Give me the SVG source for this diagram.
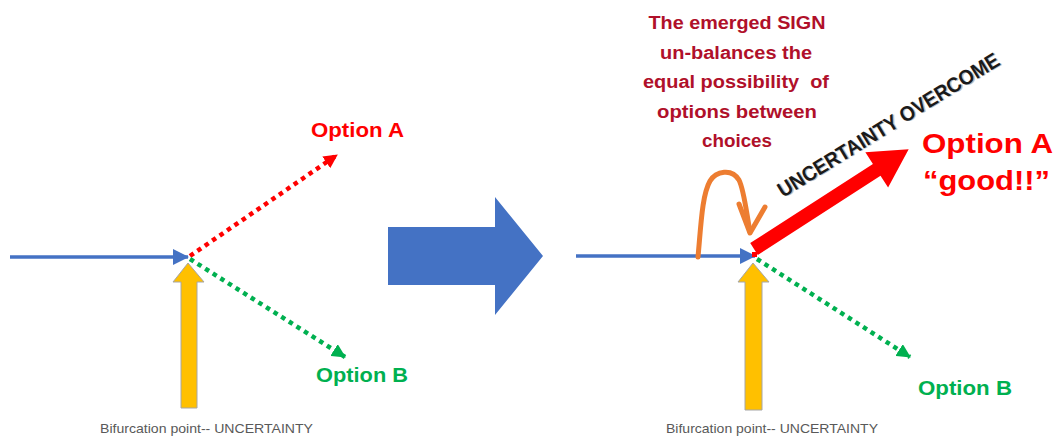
<svg xmlns="http://www.w3.org/2000/svg" width="1058" height="439" viewBox="0 0 1058 439">
<style>
.blue{stroke:#4472C4;stroke-width:3.5;fill:none}
.reddot{stroke:#FF0000;stroke-width:4.5;stroke-dasharray:4.5 4.5;fill:none}
.greendot{stroke:#00B050;stroke-width:4.5;stroke-dasharray:4.5 4.5;fill:none}
.yellow{fill:#FFC000;stroke:#A6A6A6;stroke-width:1}
.lbl{font-family:"Liberation Sans",Arial,sans-serif;font-weight:bold}
.optA{fill:#FF0000}
.optB{fill:#00B050}
.bif{font-family:"Liberation Sans",Arial,sans-serif;font-size:13px;fill:#595959}
.sign{font-family:"Liberation Sans",Arial,sans-serif;font-weight:bold;font-size:18px;fill:#B0102A;text-anchor:middle}
</style>
<defs>
<marker id="mBlue" markerUnits="userSpaceOnUse" markerWidth="16" markerHeight="18" refX="15" refY="8" orient="auto"><path d="M0,0 L16,8 L0,16 Z" fill="#4472C4"/></marker>
<marker id="mRed" markerUnits="userSpaceOnUse" markerWidth="14" markerHeight="14" refX="13" refY="7" orient="auto"><path d="M0,0 L14,7 L0,14 Z" fill="#FF0000"/></marker>
<marker id="mGreen" markerUnits="userSpaceOnUse" markerWidth="14" markerHeight="14" refX="13" refY="7" orient="auto"><path d="M0,0 L14,7 L0,14 Z" fill="#00B050"/></marker>
</defs>

<g id="connectors">
  <!-- left panel -->
  <line class="blue" x1="10" y1="257" x2="188" y2="257" marker-end="url(#mBlue)"/>
  <line class="reddot" x1="190" y1="256" x2="337" y2="155" marker-end="url(#mRed)"/>
  <line class="greendot" x1="190" y1="259" x2="345" y2="357" marker-end="url(#mGreen)"/>
  <!-- right panel -->
  <line class="blue" x1="576" y1="256" x2="755" y2="256" marker-end="url(#mBlue)"/>
  <line class="greendot" x1="757" y1="259" x2="910" y2="357" marker-end="url(#mGreen)"/>
  <path d="M698,257 C701,225 702,195 710,181 C716,171 732,168 739,180 C744,190 746,210 750,232" fill="none" stroke="#ED7D31" stroke-width="5" stroke-linecap="round"/>
  <path d="M739,204 L750,233 L765,207" fill="none" stroke="#ED7D31" stroke-width="5" stroke-linecap="round" stroke-linejoin="round"/>
</g>

<g id="yellow-left">
  <polygon class="yellow" points="188,263 204,282 197,282 197,408 181,408 181,282 173,282"/>
</g>
<g id="yellow-right">
  <polygon class="yellow" points="753,263 769,282 762,282 762,410 745,410 745,282 738,282"/>
</g>

<g id="transition-arrow">
  <polygon points="388,227 495,227 495,197 543,256 495,315 495,285 388,285" fill="#4472C4"/>
</g>

<g id="red-arrow">
  <rect x="752" y="252" width="5" height="5" fill="#FF0000"/>
  <polygon transform="translate(754,249) rotate(-32.8)" points="0,-7 146,-7 146,-21 184,0 146,21 146,7 0,7" fill="#FF0000"/>
</g>

<g id="label-left">
  <text class="lbl optA" x="311" y="137" font-size="21" textLength="93" lengthAdjust="spacingAndGlyphs">Option A</text>
  <text class="lbl optB" x="316" y="382" font-size="21" textLength="92" lengthAdjust="spacingAndGlyphs">Option B</text>
  <text class="bif" x="100" y="433" textLength="213" lengthAdjust="spacingAndGlyphs">Bifurcation point-- UNCERTAINTY</text>
</g>

<g id="label-right">
  <text class="lbl optA" x="922" y="153" font-size="27" textLength="131" lengthAdjust="spacingAndGlyphs">Option A</text>
  <text class="lbl optA" x="923" y="190" font-size="27" textLength="127" lengthAdjust="spacingAndGlyphs">“good!!”</text>
  <text class="lbl optB" x="918" y="395" font-size="21" textLength="94" lengthAdjust="spacingAndGlyphs">Option B</text>
  <text class="bif" x="666" y="433" textLength="212" lengthAdjust="spacingAndGlyphs">Bifurcation point-- UNCERTAINTY</text>
</g>

<g id="uncertainty-overcome">
  <text class="lbl" transform="translate(783,198) rotate(-31.5)" x="1" y="1" font-size="21" fill="#BFBFBF" textLength="256" lengthAdjust="spacingAndGlyphs">UNCERTAINTY OVERCOME</text>
  <text class="lbl" transform="translate(783,198) rotate(-31.5)" x="0" y="0" font-size="21" fill="#1A1A1A" textLength="256" lengthAdjust="spacingAndGlyphs">UNCERTAINTY OVERCOME</text>
</g>

<g id="sign-note">
  <text class="sign" x="737" y="29" textLength="177" lengthAdjust="spacingAndGlyphs">The emerged SIGN</text>
  <text class="sign" x="736" y="58.5" textLength="152" lengthAdjust="spacingAndGlyphs">un-balances the</text>
  <text class="sign" x="736" y="88" textLength="186" lengthAdjust="spacingAndGlyphs" xml:space="preserve">equal possibility  of</text>
  <text class="sign" x="737" y="117.5" textLength="160" lengthAdjust="spacingAndGlyphs">options between</text>
  <text class="sign" x="737" y="147" textLength="70" lengthAdjust="spacingAndGlyphs">choices</text>
</g>
</svg>
